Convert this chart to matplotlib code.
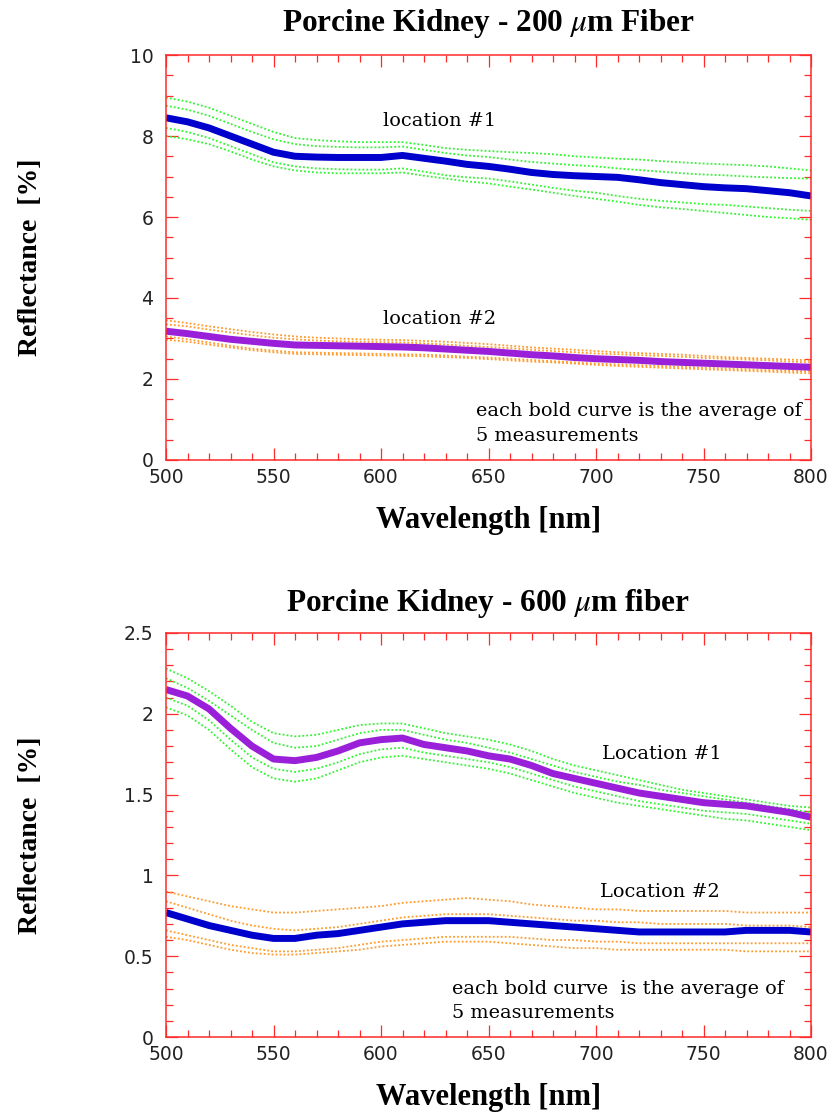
import matplotlib
matplotlib.use("Agg")
import matplotlib.pyplot as plt
from matplotlib.ticker import MultipleLocator, FormatStrFormatter

plt.rcParams['mathtext.fontset'] = 'stix'

# wavelength grid (nm), 10 nm steps
wl = list(range(500, 801, 10))

# ---- top panel: 200 um fiber ----
top_loc1_avg = [8.45, 8.35, 8.2, 8.0, 7.8, 7.6, 7.5, 7.48, 7.47, 7.47, 7.47, 7.52, 7.45, 7.38, 7.3, 7.25,
                7.18, 7.1, 7.05, 7.02, 7.0, 6.98, 6.92, 6.85, 6.8, 6.75, 6.72, 6.7, 6.65, 6.6, 6.52]
top_loc1_meas = [
    [8.95, 8.85, 8.7, 8.5, 8.3, 8.1, 7.95, 7.9, 7.87, 7.85, 7.85, 7.85, 7.78, 7.7, 7.66, 7.63,
     7.6, 7.58, 7.55, 7.5, 7.47, 7.44, 7.42, 7.38, 7.35, 7.32, 7.3, 7.28, 7.25, 7.2, 7.15],
    [8.75, 8.65, 8.5, 8.3, 8.1, 7.92, 7.8, 7.75, 7.73, 7.72, 7.72, 7.74, 7.66, 7.58, 7.52, 7.48,
     7.42, 7.36, 7.32, 7.28, 7.25, 7.2, 7.16, 7.12, 7.08, 7.05, 7.03, 7.0, 6.98, 6.96, 6.95],
    [8.2, 8.1, 7.95, 7.75, 7.55, 7.35, 7.25, 7.2, 7.18, 7.17, 7.17, 7.2, 7.12, 7.03, 6.98, 6.95,
     6.88, 6.8, 6.72, 6.65, 6.6, 6.52, 6.45, 6.4, 6.36, 6.32, 6.3, 6.26, 6.22, 6.18, 6.15],
    [8.0, 7.92, 7.8, 7.62, 7.42, 7.25, 7.15, 7.1, 7.08, 7.08, 7.08, 7.1, 7.02, 6.95, 6.88, 6.83,
     6.75, 6.68, 6.6, 6.52, 6.45, 6.38, 6.3, 6.24, 6.2, 6.15, 6.1, 6.05, 6.0, 5.97, 5.93],
]
top_loc2_avg = [3.18, 3.12, 3.05, 2.98, 2.93, 2.88, 2.84, 2.83, 2.82, 2.81, 2.8, 2.79, 2.77, 2.74, 2.71, 2.68,
                2.64, 2.6, 2.57, 2.53, 2.5, 2.48, 2.46, 2.43, 2.41, 2.39, 2.37, 2.35, 2.33, 2.31, 2.29]
top_loc2_meas = [
    [3.45, 3.38, 3.3, 3.23, 3.16, 3.1, 3.05, 3.02, 3.0, 2.98, 2.97, 2.96, 2.94, 2.92, 2.89, 2.86,
     2.82, 2.78, 2.75, 2.72, 2.69, 2.66, 2.64, 2.62, 2.6, 2.57, 2.54, 2.52, 2.5, 2.48, 2.46],
    [3.35, 3.3, 3.22, 3.15, 3.08, 3.02, 2.98, 2.95, 2.93, 2.92, 2.91, 2.9, 2.88, 2.85, 2.82, 2.79,
     2.76, 2.72, 2.69, 2.66, 2.63, 2.61, 2.59, 2.57, 2.55, 2.52, 2.5, 2.48, 2.46, 2.43, 2.41],
    [3.05, 2.98, 2.9, 2.82, 2.75, 2.7, 2.66, 2.65, 2.64, 2.63, 2.62, 2.61, 2.6, 2.58, 2.55, 2.53,
     2.5, 2.47, 2.44, 2.41, 2.38, 2.36, 2.34, 2.32, 2.3, 2.28, 2.26, 2.24, 2.22, 2.2, 2.19],
    [2.97, 2.92, 2.85, 2.78, 2.71, 2.66, 2.62, 2.61, 2.6, 2.59, 2.58, 2.57, 2.56, 2.54, 2.52, 2.49,
     2.46, 2.43, 2.41, 2.38, 2.35, 2.32, 2.3, 2.28, 2.26, 2.24, 2.22, 2.2, 2.18, 2.16, 2.14],
]

# ---- bottom panel: 600 um fiber ----
bot_loc1_avg = [2.15, 2.11, 2.03, 1.91, 1.8, 1.72, 1.71, 1.73, 1.77, 1.82, 1.84, 1.85, 1.81, 1.79, 1.77, 1.74,
                1.72, 1.68, 1.63, 1.6, 1.57, 1.54, 1.51, 1.49, 1.47, 1.45, 1.44, 1.43, 1.41, 1.39, 1.36]
bot_loc1_meas = [
    [2.28, 2.22, 2.14, 2.05, 1.95, 1.88, 1.86, 1.87, 1.9, 1.93, 1.94, 1.94, 1.91, 1.88, 1.86, 1.84,
     1.81, 1.77, 1.72, 1.68, 1.65, 1.62, 1.59, 1.56, 1.53, 1.51, 1.49, 1.47, 1.45, 1.43, 1.42],
    [2.22, 2.16, 2.08, 1.99, 1.9, 1.82, 1.79, 1.8, 1.84, 1.88, 1.9, 1.9, 1.87, 1.84, 1.82, 1.79,
     1.76, 1.72, 1.68, 1.64, 1.61, 1.58, 1.56, 1.53, 1.51, 1.49, 1.47, 1.45, 1.43, 1.41, 1.39],
    [2.1, 2.05, 1.96, 1.84, 1.73, 1.66, 1.64, 1.66, 1.7, 1.75, 1.78, 1.79, 1.76, 1.74, 1.72, 1.7,
     1.67, 1.63, 1.59, 1.55, 1.52, 1.49, 1.46, 1.44, 1.42, 1.4, 1.39, 1.38, 1.36, 1.34, 1.32],
    [2.04, 1.99, 1.9, 1.78, 1.67, 1.6, 1.58, 1.6, 1.65, 1.7, 1.73, 1.74, 1.72, 1.7, 1.68, 1.66,
     1.63, 1.59, 1.55, 1.51, 1.48, 1.45, 1.43, 1.41, 1.39, 1.37, 1.35, 1.34, 1.32, 1.3, 1.28],
]
bot_loc2_avg = [0.77, 0.73, 0.69, 0.66, 0.63, 0.61, 0.61, 0.63, 0.64, 0.66, 0.68, 0.7, 0.71, 0.72, 0.72, 0.72,
                0.71, 0.7, 0.69, 0.68, 0.67, 0.66, 0.65, 0.65, 0.65, 0.65, 0.65, 0.66, 0.66, 0.66, 0.65]
bot_loc2_meas = [
    [0.9, 0.87, 0.84, 0.81, 0.79, 0.77, 0.77, 0.78, 0.79, 0.8, 0.81, 0.83, 0.84, 0.85, 0.86, 0.85,
     0.84, 0.82, 0.81, 0.8, 0.79, 0.79, 0.78, 0.78, 0.78, 0.78, 0.78, 0.77, 0.77, 0.77, 0.77],
    [0.84, 0.8, 0.76, 0.72, 0.69, 0.67, 0.66, 0.67, 0.68, 0.7, 0.72, 0.74, 0.75, 0.76, 0.76, 0.76,
     0.75, 0.74, 0.73, 0.72, 0.72, 0.71, 0.71, 0.7, 0.7, 0.7, 0.7, 0.69, 0.69, 0.69, 0.68],
    [0.66, 0.63, 0.6, 0.57, 0.55, 0.53, 0.53, 0.54, 0.55, 0.57, 0.59, 0.6, 0.61, 0.62, 0.62, 0.62,
     0.62, 0.61, 0.6, 0.6, 0.59, 0.59, 0.58, 0.58, 0.58, 0.58, 0.58, 0.58, 0.58, 0.58, 0.58],
    [0.62, 0.6, 0.57, 0.54, 0.52, 0.51, 0.51, 0.52, 0.53, 0.54, 0.56, 0.57, 0.58, 0.59, 0.59, 0.59,
     0.58, 0.57, 0.56, 0.55, 0.55, 0.54, 0.54, 0.54, 0.54, 0.54, 0.54, 0.53, 0.53, 0.53, 0.53],
]

BLUE = "#0000cc"
PURPLE = "#9a1fd8"
GREEN = "#2ef52e"
ORANGE = "#ff9a2a"
RED = "#ff2a2a"

serif = "DejaVu Serif"
bold_serif = "Liberation Serif"
note_size = 13.9


def style_axes(ax, ymax, ymajor, yminor):
    ax.set_xlim(500, 800)
    ax.set_ylim(0, ymax)
    ax.xaxis.set_major_locator(MultipleLocator(50))
    ax.xaxis.set_minor_locator(MultipleLocator(10))
    ax.yaxis.set_major_locator(MultipleLocator(ymajor))
    ax.yaxis.set_minor_locator(MultipleLocator(yminor))
    ax.yaxis.set_major_formatter(FormatStrFormatter("%g"))
    for sp in ax.spines.values():
        sp.set_color(RED)
        sp.set_linewidth(1.1)
    ax.tick_params(which="both", direction="in", top=True, right=True,
                   color=RED, width=0.9, labelsize=13.5, labelcolor="#222222")
    ax.tick_params(which="major", length=8.5)
    ax.tick_params(which="minor", length=5)
    ax.tick_params(axis="y", pad=9)
    ax.tick_params(axis="x", pad=6)
    ax.set_xlabel("Wavelength [nm]", fontsize=22, fontweight="bold", family=bold_serif, labelpad=13.5)
    ax.set_ylabel("Reflectance  [%]", fontsize=20, fontweight="bold", family=bold_serif)
    ax.yaxis.set_label_coords(-0.19, 0.5)


def draw(ax, meas, avg, thin_color, bold_color):
    for m in meas:
        ax.plot(wl, m, color=thin_color, lw=1.3, linestyle=(0, (1, 1.2)))
    ax.plot(wl, avg, color=bold_color, lw=5, solid_capstyle="butt")


fig = plt.figure(figsize=(8.33, 11.14), dpi=100)

ax1 = fig.add_axes([0.1993, 0.5871, 0.7743, 0.3635])
draw(ax1, top_loc1_meas, top_loc1_avg, GREEN, BLUE)
draw(ax1, top_loc2_meas, top_loc2_avg, ORANGE, PURPLE)
style_axes(ax1, 10, 2, 0.5)
ax1.set_title("Porcine Kidney - 200 $\\mu$m Fiber", fontsize=22.5, fontweight="bold",
              family=bold_serif, pad=17)
ax1.text(601, 8.37, "location #1", family=serif, fontsize=note_size, va="center")
ax1.text(601, 3.47, "location #2", family=serif, fontsize=note_size, va="center")
ax1.text(644, 1.2, "each bold curve is the average of", family=serif, fontsize=note_size, va="center")
ax1.text(644, 0.59, "5 measurements", family=serif, fontsize=note_size, va="center")

ax2 = fig.add_axes([0.1993, 0.0691, 0.7743, 0.3627])
draw(ax2, bot_loc1_meas, bot_loc1_avg, GREEN, PURPLE)
draw(ax2, bot_loc2_meas, bot_loc2_avg, ORANGE, BLUE)
style_axes(ax2, 2.5, 0.5, 0.1)
ax2.set_title("Porcine Kidney - 600 $\\mu$m fiber", fontsize=22.5, fontweight="bold",
              family=bold_serif, pad=16)
ax2.text(703, 1.75, "Location #1", family=serif, fontsize=note_size, va="center")
ax2.text(702, 0.9, "Location #2", family=serif, fontsize=note_size, va="center")
ax2.text(633, 0.3, "each bold curve  is the average of", family=serif, fontsize=note_size, va="center")
ax2.text(633, 0.15, "5 measurements", family=serif, fontsize=note_size, va="center")

fig.savefig("out.png", dpi=100)
